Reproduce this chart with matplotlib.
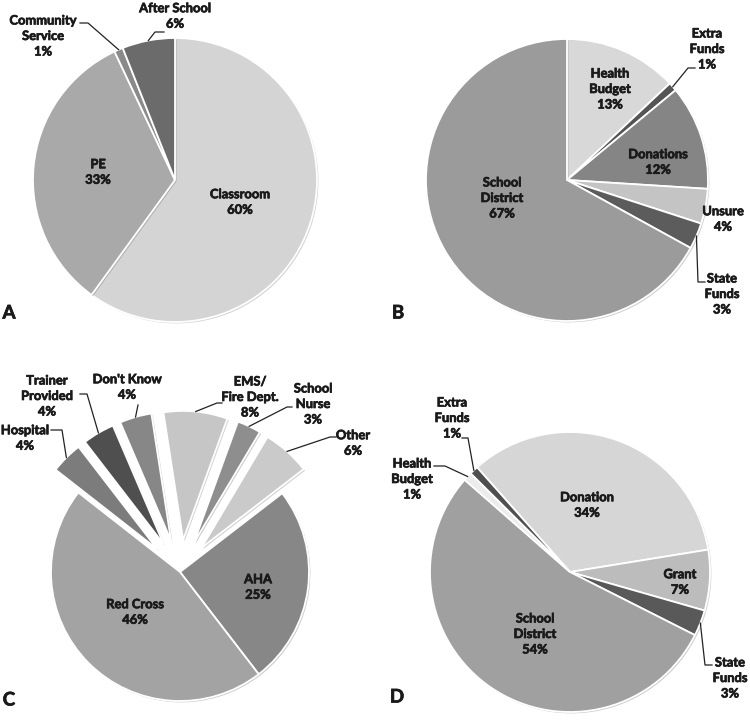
import numpy as np
import matplotlib.pyplot as plt
import matplotlib.patheffects as pe

plt.rcParams['font.family'] = ['Lato', 'DejaVu Sans']

# Panel A - where CPR is taught
a_labels = ['Classroom', 'PE', 'Community\nService', 'After School']
a_values = [60, 33, 1, 6]
a_colors = ['#d4d4d4', '#a9a9a9', '#8a8a8a', '#6b6b6b']

# Panel B - funding
b_labels = ['Health\nBudget', 'Extra\nFunds', 'Donations', 'Unsure', 'State\nFunds', 'School\nDistrict']
b_values = [13, 1, 12, 4, 3, 67]
b_colors = ['#d8d8d8', '#555555', '#858585', '#c4c4c4', '#5c5c5c', '#9b9b9b']

# Panel C - training provider
c_labels = ['AHA', 'Red Cross', 'Hospital', 'Trainer\nProvided', "Don't Know",
            'EMS/\nFire Dept.', 'School\nNurse', 'Other']
c_values = [25, 46, 4, 4, 4, 8, 3, 6]
c_colors = ['#878787', '#a3a3a3', '#7c7c7c', '#4f4f4f', '#878787',
            '#c6c6c6', '#8e8e8e', '#cacaca']
c_exploded = [False, False, True, True, True, True, True, True]

# Panel D - funding
d_labels = ['Donation', 'Grant', 'State\nFunds', 'School\nDistrict', 'Health\nBudget', 'Extra\nFunds']
d_values = [34, 7, 3, 54, 1, 1]
d_colors = ['#d6d6d6', '#bcbcbc', '#595959', '#a0a0a0', '#ececec', '#4f4f4f']

W, H = 750, 723


def yd(y):
    # reference pixel row -> data y
    return H - y


fig = plt.figure(figsize=(7.5, 7.23), dpi=100)
ax = fig.add_axes([0, 0, 1, 1])

txt_fx = [pe.withStroke(linewidth=0.5, foreground='#1a1a1a')]


def draw_pie(values, colors, center, radius, start, explode=None):
    wedges, _ = ax.pie(values, colors=colors, startangle=start, counterclock=False,
                       center=(center[0], yd(center[1])), radius=radius, explode=explode,
                       wedgeprops=dict(edgecolor='white', linewidth=1.3))
    for w in wedges:
        w.set_path_effects([pe.SimplePatchShadow(offset=(1, -1), alpha=0.25), pe.Normal()])
    return wedges


def put_labels(wedges, labels, values, text_pos, leaders):
    for i, (lab, val) in enumerate(zip(labels, values)):
        tx, ty = text_pos[i]
        ax.text(tx, yd(ty), f'{lab}\n{val}%', ha='center', va='center',
                fontsize=9.3, fontweight='bold', color='#1a1a1a', linespacing=1.35,
                path_effects=txt_fx)
        if i in leaders:
            w = wedges[i]
            th = np.deg2rad((w.theta1 + w.theta2) / 2)
            wx = w.center[0] + w.r * np.cos(th)
            wy = w.center[1] + w.r * np.sin(th)
            (kx, ky), (ex, ey) = leaders[i]
            ax.plot([wx, kx, ex], [wy, yd(ky), yd(ey)], color='#222222', lw=0.9)


# A
wa = draw_pie(a_values, a_colors, (175, 180), 142, 90)
put_labels(wa, a_labels, a_values,
           [(240, 202), (98, 172), (43, 36), (175, 16)],
           {2: ((88, 23), (80, 23)), 3: ((155, 32), (164, 32))})

# B
wb = draw_pie(b_values, b_colors, (567, 180), 141, 90)
put_labels(wb, b_labels, b_values,
           [(610, 89), (707, 49), (658, 162), (723, 219), (722, 294), (502, 198)],
           {1: ((688, 68), (695, 68)), 4: ((698, 282), (705, 282))})

# C
rc = 129
wc = draw_pie(c_values, c_colors, (180, 572), rc, 37.6,
              explode=[0.25 * rc if e else 0 for e in c_exploded])
put_labels(wc, c_labels, c_values,
           [(258, 587), (135, 612), (25, 438), (47, 396), (127, 387),
            (250, 397), (313, 404), (353, 443)],
           {2: ((62, 430), (51, 430)), 3: ((87, 394), (80, 394)),
            4: ((138, 405), (138, 405)), 5: ((217, 403), (222, 403)),
            6: ((287, 407), (292, 407)), 7: ((330, 437), (336, 437))})

# D
wd = draw_pie(d_values, d_colors, (570, 572), 140, 131.6)
put_labels(wd, d_labels, d_values,
           [(587, 505), (680, 582), (730, 678), (535, 634), (412, 479), (452, 418)],
           {2: ((705, 665), (712, 665)), 4: ((445, 466), (434, 466)),
            5: ((468, 438), (462, 438))})

# panel letters
for letter, (x, y) in zip('ABCD', [(9, 313), (398, 313), (9, 700), (397, 697)]):
    ax.text(x, yd(y), letter, ha='center', va='center', fontsize=13.5,
            fontweight='bold', color='#1a1a1a', path_effects=txt_fx)

ax.set_xlim(0, W)
ax.set_ylim(0, H)
ax.set_aspect('equal')
ax.axis('off')

fig.savefig('out.png', dpi=100, facecolor='white')
